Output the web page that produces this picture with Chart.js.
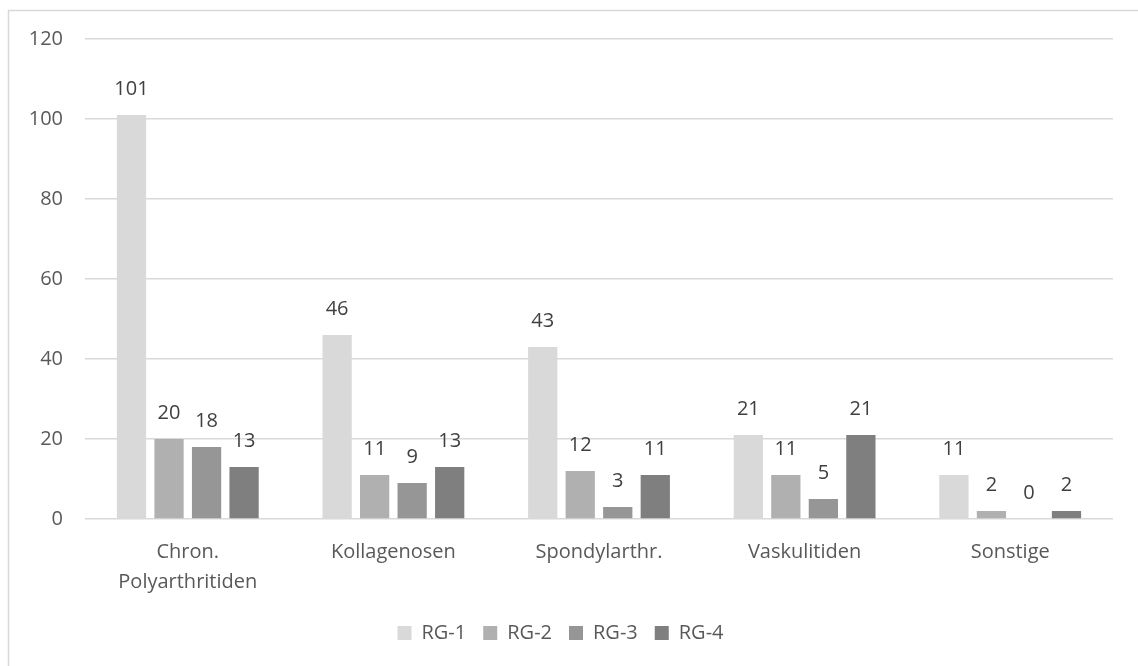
<!DOCTYPE html>
<html>
<head>
<meta charset="utf-8">
<script src="https://cdn.jsdelivr.net/npm/chart.js@4/dist/chart.umd.min.js"></script>
<style>
  html, body { margin: 0; padding: 0; background: #fff; }
  #wrap { width: 1138px; height: 666px; position: relative; }
</style>
</head>
<body>
<div id="wrap"><canvas id="c" width="1138" height="666"></canvas></div>
<script>
// Patient counts per diagnosis group, split by RG-1 … RG-4
const categories = [['Chron.', 'Polyarthritiden'], 'Kollagenosen', 'Spondylarthr.', 'Vaskulitiden', 'Sonstige'];
const seriesNames = ['RG-1', 'RG-2', 'RG-3', 'RG-4'];
const rg1 = [101, 46, 43, 21, 11];
const rg2 = [20, 11, 12, 11, 2];
const rg3 = [18, 9, 3, 5, 0];
const rg4 = [13, 13, 11, 21, 2];
const yTicks = [0, 20, 40, 60, 80, 100, 120];

const colors = ['#d9d9d9', '#b0b0b0', '#969696', '#7f7f7f'];
const FONT = '"Open Sans", Lato, sans-serif';

// Thin frame around the whole chart
const framePlugin = {
  id: 'frame',
  beforeDraw(chart) {
    const ctx = chart.ctx;
    ctx.save();
    ctx.strokeStyle = '#d9d9d9';
    ctx.lineWidth = 1.5;
    ctx.strokeRect(8.5, 10.5, 1300, 800);
    ctx.restore();
  }
};

// Value printed above every bar
const valueLabels = {
  id: 'valueLabels',
  afterDatasetsDraw(chart) {
    const ctx = chart.ctx;
    ctx.save();
    ctx.font = '20px ' + FONT;
    ctx.fillStyle = '#404040';
    ctx.textAlign = 'center';
    ctx.textBaseline = 'middle';
    chart.data.datasets.forEach((ds, di) => {
      const meta = chart.getDatasetMeta(di);
      meta.data.forEach((bar, i) => {
        ctx.fillText(String(ds.data[i]), bar.x, bar.y - 26);
      });
    });
    ctx.restore();
  }
};

new Chart(document.getElementById('c'), {
  type: 'bar',
  data: {
    labels: categories,
    datasets: [rg1, rg2, rg3, rg4].map((d, i) => ({
      label: seriesNames[i],
      data: d,
      backgroundColor: colors[i],
      borderWidth: 0,
      categoryPercentage: 0.73,
      barPercentage: 0.78
    }))
  },
  options: {
    responsive: false,
    animation: false,
    layout: { padding: { left: 8, right: 25, top: 39, bottom: 13 } },
    plugins: {
      tooltip: { enabled: false },
      legend: {
        position: 'bottom',
        labels: {
          boxWidth: 14,
          boxHeight: 14,
          padding: 17,
          color: '#595959',
          font: { family: FONT, size: 20 }
        }
      }
    },
    scales: {
      x: {
        grid: { display: false },
        border: { display: false },
        ticks: {
          color: '#595959',
          font: { family: FONT, size: 20, lineHeight: 1.5 },
          padding: 10,
          maxRotation: 0,
          autoSkip: false
        },
        afterFit(scale) { scale.height = 87; }
      },
      y: {
        min: 0,
        max: 120,
        afterBuildTicks(scale) { scale.ticks = yTicks.map(v => ({ value: v })); },
        grid: { color: '#d9d9d9', lineWidth: 1.5, drawTicks: false },
        border: { display: false },
        ticks: {
          color: '#595959',
          font: { family: FONT, size: 20 },
          padding: 22
        },
        afterFit(scale) { scale.width = 77; }
      }
    }
  },
  plugins: [framePlugin, valueLabels]
});
</script>
</body>
</html>
